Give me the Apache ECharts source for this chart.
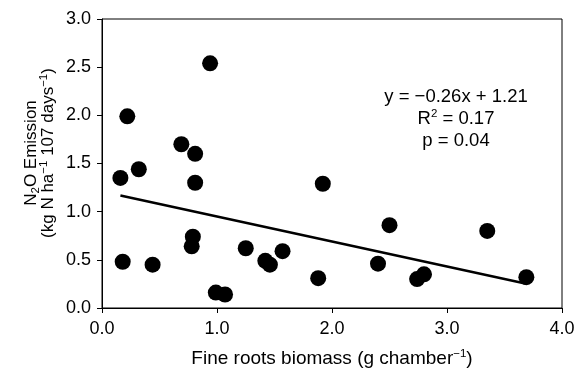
<!DOCTYPE html>
<html>
<head>
<meta charset="utf-8">
<script src="https://cdn.jsdelivr.net/npm/echarts@6/dist/echarts.min.js"></script>
<style>
html,body{margin:0;padding:0;background:#fff;}
#c{width:578px;height:369px;}
</style>
</head>
<body>
<div id="c"></div>
<script>
// Data
const biomass = [0.16, 0.22, 0.32, 0.18, 0.44, 0.69, 0.81, 0.81, 0.94, 0.79, 0.78, 0.99, 1.07, 1.25, 1.42, 1.46, 1.57, 1.88, 1.92, 2.40, 2.50, 2.74, 2.80, 3.35, 3.69];
const emission = [1.35, 1.99, 1.44, 0.48, 0.45, 1.70, 1.60, 1.30, 2.54, 0.74, 0.64, 0.16, 0.14, 0.62, 0.49, 0.45, 0.59, 0.31, 1.29, 0.46, 0.86, 0.30, 0.35, 0.80, 0.32];
const trendX = [0.16, 3.69];
const trendY = [1.168, 0.251];
const xTicks = [0, 1, 2, 3, 4];
const yTicks = [0, 0.5, 1, 1.5, 2, 2.5, 3];

const FONT = 'Liberation Sans, Arial, sans-serif';
const chart = echarts.init(document.getElementById('c'), null, {renderer: 'canvas'});

const points = biomass.map((x, i) => [x, emission[i]]);
const trend = trendX.map((x, i) => [x, trendY[i]]);

const supStyle = {fontSize: 11.5, fontFamily: FONT, color: '#000', padding: [0, 0, 10, 0]};
const subStyle = {fontSize: 11.5, fontFamily: FONT, color: '#000', padding: [9, 0, 0, 0]};

chart.setOption({
  animation: false,
  backgroundColor: '#fff',
  grid: {left: 102, right: 16, top: 19, bottom: 61, show: true, borderColor: '#000', borderWidth: 1, containLabel: false, outerBoundsMode: 'none'},
  xAxis: {
    type: 'value', min: xTicks[0], max: xTicks[xTicks.length - 1], interval: 1,
    axisLine: {show: true, lineStyle: {color: '#000', width: 1}},
    axisTick: {show: true, inside: false, length: 5, lineStyle: {color: '#000'}},
    splitLine: {show: false},
    axisLabel: {color: '#000', fontSize: 18, fontFamily: FONT, margin: 12, formatter: v => v.toFixed(1)},
    name: 'Fine roots biomass (g chamber{sup|\u22121})',
    nameLocation: 'middle', nameGap: 40,
    nameTextStyle: {color: '#000', fontSize: 19, fontFamily: FONT, rich: {sup: supStyle}}
  },
  yAxis: {
    type: 'value', min: yTicks[0], max: yTicks[yTicks.length - 1], interval: 0.5,
    axisLine: {show: true, lineStyle: {color: '#000', width: 1}},
    axisTick: {show: true, inside: false, length: 5, lineStyle: {color: '#000'}},
    splitLine: {show: false},
    axisLabel: {color: '#000', fontSize: 18, fontFamily: FONT, margin: 11, formatter: v => v.toFixed(1)}
  },
  graphic: [
    {
      type: 'text', x: 40, y: 153, rotation: Math.PI / 2,
      style: {
        text: 'N{sub|2}O Emission\n(kg N ha{sup|\u22121} 107 days{sup|\u22121})',
        align: 'center', verticalAlign: 'middle', fontSize: 17, fontFamily: FONT, fill: '#000', lineHeight: 17,
        rich: {sup: supStyle, sub: subStyle}
      }
    },
    {
      type: 'text', x: 456, y: 119,
      style: {
        text: 'y = \u22120.26x + 1.21\nR{sup|2} = 0.17\np = 0.04',
        align: 'center', verticalAlign: 'middle', fontSize: 18.5, fontFamily: FONT, fill: '#000', lineHeight: 22,
        rich: {sup: supStyle}
      }
    }
  ],
  series: [
    {
      type: 'line', data: trend, symbol: 'none', silent: true,
      lineStyle: {color: '#000', width: 2.5}, z: 2
    },
    {
      type: 'scatter', data: points, symbol: 'circle', symbolSize: 16,
      itemStyle: {color: '#000', opacity: 1}, z: 3
    }
  ]
});
</script>
</body>
</html>
